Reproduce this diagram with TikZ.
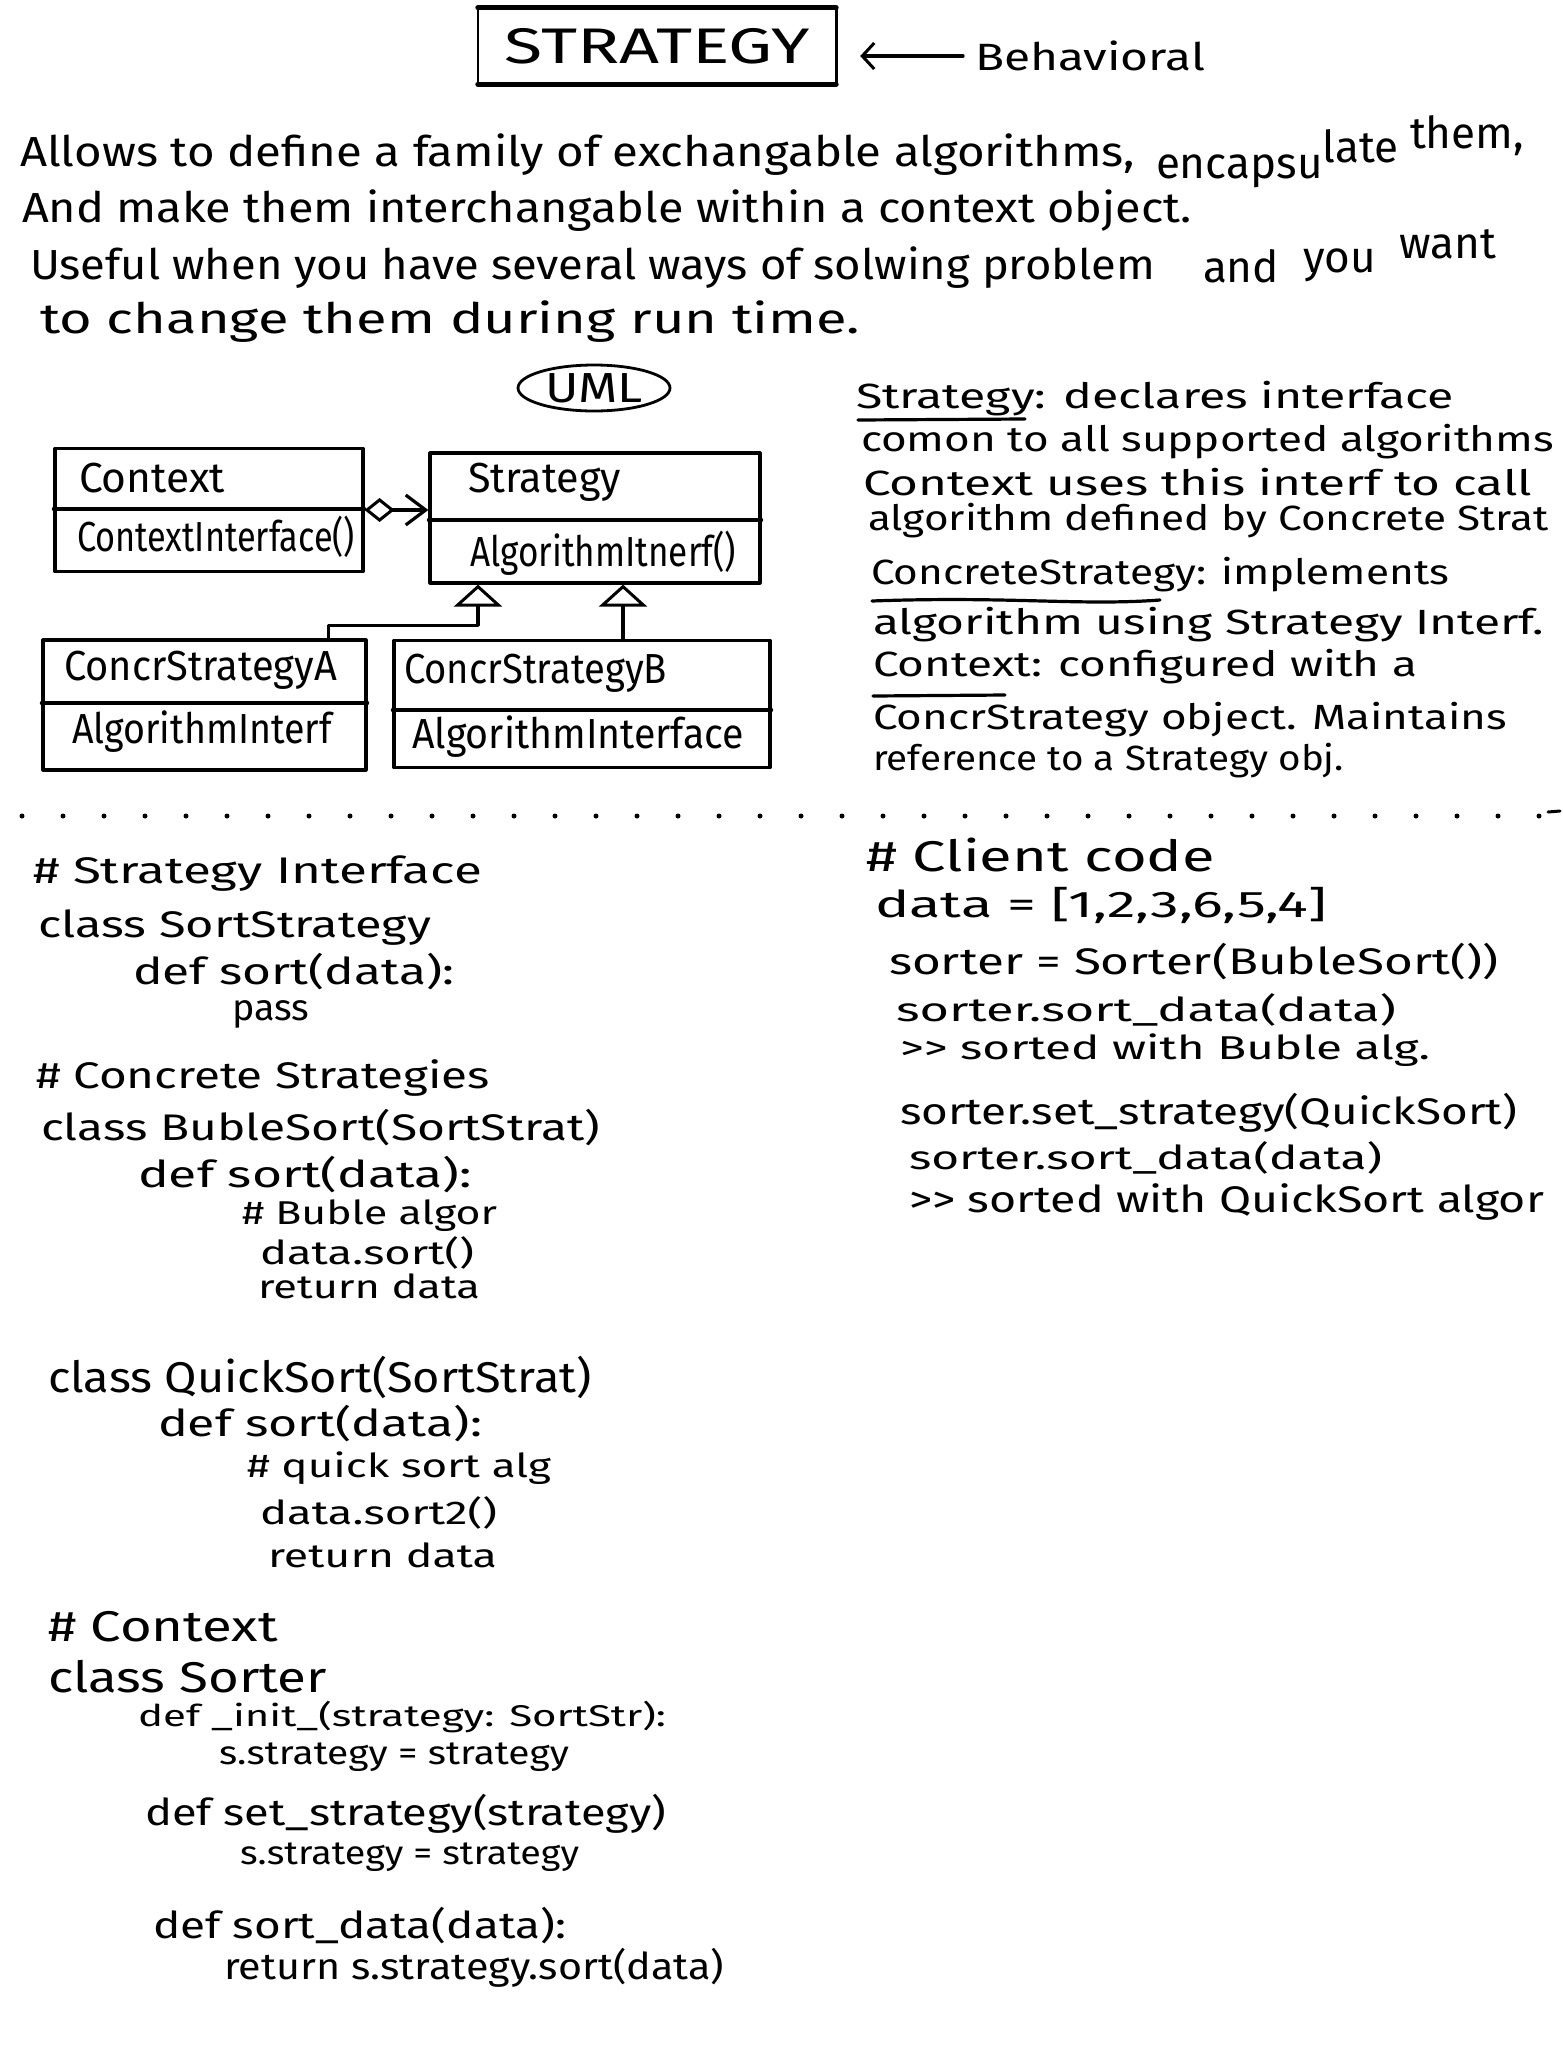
\documentclass[tikz,border=0pt]{standalone}
\usepackage{fontspec}
\setmainfont{Fira Sans}
\usetikzlibrary{arrows.meta,shapes.geometric}
% stretch a line of text horizontally to a given width (in pt), keeping its height
\newcommand\fitw[2]{\resizebox{#1pt}{\height}{#2}}
\begin{document}
\begin{tikzpicture}[x=1pt,y=-1pt,
  ink/.style={line width=3.2pt, line cap=round, line join=round},
  txt/.style={anchor=west, inner sep=0pt, outer sep=0pt},
  para/.style={txt, font=\fontsize{42}{48}\selectfont},
  note/.style={txt, font=\fontsize{35}{40}\selectfont},
  code/.style={txt, font=\fontsize{37}{42}\selectfont},
  tightcode/.style={txt, font=\fontsize{33}{38}\selectfont},
  bigcode/.style={txt, font=\fontsize{43}{48}\selectfont},
  umltxt/.style={txt, font=\fontsize{42}{48}\selectfont},
  classbox/.style={draw, ink, rectangle, inner sep=0pt},
  inherit/.style={ink, -{Triangle[open, length=22pt, width=48pt, line width=3pt]}},
  aggr/.style={ink, {Diamond[open, length=30pt, width=24pt, line width=3pt]}-{Straight Barb[length=20pt, width=30pt, line width=3.2pt]}},
]
\useasboundingbox (0,0) rectangle (1563,2048);
\fill[white] (0,0) rectangle (1563,2048);

% ---------- title ----------
\node[font=\fontsize{50}{56}\selectfont, minimum width=358pt, minimum height=76pt, inner sep=0pt] (title) at (657,46) {\fitw{305}{STRATEGY}};
\draw[line width=2.6pt] (title.north west) rectangle (title.south east);
\draw[line width=5pt, line cap=round] (title.north west) -- (title.north east);
\draw[line width=5pt, line cap=round] (title.south west) -- (title.south east);
\node[txt, font=\fontsize{38}{44}\selectfont] (behav) at (975,56) {\fitw{230}{Behavioral}};
\draw[ink, -{Straight Barb[length=12pt, width=26pt, line width=3pt]}, shorten >=24pt, shorten <=12pt] (behav.west) -- (title.east |- behav.west);

% ---------- description ----------
\node[para] (p1) at (20,155) {\fitw{1115}{Allows to define a family of exchangable algorithms,}};
\node[txt, font=\fontsize{44}{50}\selectfont] (p1b) at (1156,152) {encapsu\raisebox{16pt}{late}\raisebox{30pt}{ them,}};
\node[para] (p2) at (22,211) {\fitw{1170}{And make them interchangable within a context object.}};
\node[para] (p3) at (30,268) {\fitw{1125}{Useful when you have several ways of solwing problem}};
\node[txt, font=\fontsize{44}{50}\selectfont] (p3b) at (1203,256) {and\hspace{24pt}\raisebox{10pt}{you}\hspace{24pt}\raisebox{24pt}{want}};
\node[para] (p4) at (40,322) {\fitw{820}{to change them during run time.}};

% ---------- UML ----------
\node[ellipse, draw, line width=2.8pt, minimum width=152pt, minimum height=46pt, inner sep=0pt,
      font=\fontsize{42}{48}\selectfont] (uml) at (594,388) {\fitw{98}{UML}};

\node[classbox, minimum width=308pt, minimum height=123pt] (context) at (209,510) {};
\draw[ink] ([yshift=1pt]context.west) -- ([yshift=1pt]context.east);
\node[umltxt] (ctxname) at (79,478) {\fitw{146}{Context}};
\node[umltxt] (ctxop) at (77,537) {\fitw{278}{ContextInterface()}};

\node[classbox, minimum width=330pt, minimum height=130pt] (strategy) at (595,518) {};
\draw[ink] ([yshift=-2pt]strategy.west) -- ([yshift=-2pt]strategy.east);
\node[umltxt] (stname) at (468,482) {\fitw{153}{Strategy}};
\node[umltxt] (stop) at (470,553) {\fitw{266}{AlgorithmItnerf()}};

\node[classbox, minimum width=323pt, minimum height=130pt] (concrA) at (204.5,705) {};
\draw[ink] ([yshift=2pt]concrA.west) -- ([yshift=2pt]concrA.east);
\node[umltxt] (aname) at (64,670) {\fitw{273}{ConcrStrategyA}};
\node[umltxt] (aop) at (72,732) {\fitw{260}{AlgorithmInterf}};

\node[classbox, minimum width=376pt, minimum height=127pt] (concrB) at (582,704) {};
\draw[ink] ([yshift=-6pt]concrB.west) -- ([yshift=-6pt]concrB.east);
\node[umltxt] (bname) at (404,673) {\fitw{263}{ConcrStrategyB}};
\node[umltxt] (bop) at (412,737) {\fitw{332}{AlgorithmInterface}};

\draw[aggr] (context.east) -- (strategy.west |- context.east);
\coordinate (tipA) at ([xshift=-117pt]strategy.south);
\coordinate (tipB) at ([xshift=28pt]strategy.south);
\draw[inherit] ([xshift=124pt]concrA.north) -- ++(0,-13) -| (tipA);
\draw[inherit] (concrB.north -| tipB) -- (tipB);

% ---------- notes ----------
\node[note] (n1) at (856,399) {\fitw{598}{Strategy: declares interface}};
\node[note] (n2) at (861,442) {\fitw{693}{comon to all supported algorithms}};
\node[note] (n3) at (863,482) {\fitw{669}{Context uses this interf to call}};
\node[note] (n4) at (868,521) {\fitw{681}{algorithm defined by Concrete Strat}};
\node[note] (n5) at (871,575) {\fitw{578}{ConcreteStrategy: implements}};
\node[note] (n6) at (873,625) {\fitw{671}{algorithm using Strategy Interf.}};
\node[note] (n7) at (873,667) {\fitw{544}{Context: configured with a}};
\node[note] (n8) at (873,720) {\fitw{634}{ConcrStrategy object. Maintains}};
\node[note] (n9) at (873,761) {\fitw{471}{reference to a Strategy obj.}};
\draw[ink] (858,420) -- (1025,419);
\draw[ink] (872,601) .. controls (1010,596) and (1080,606) .. (1160,600);
\draw[ink] (873,696) -- (1005,695);

% ---------- separator ----------
\draw[line width=5pt, line cap=round, dash pattern=on 0pt off 41pt] (22,816) -- (1540,816);
\draw[line width=3pt, line cap=round] (1548,812) -- (1560,811);

% ---------- strategy code ----------
\node[code] (c1) at (33,874) {\fitw{449}{\# Strategy Interface}};
\node[code] (c2) at (38,928) {\fitw{393}{class SortStrategy}};
\node[code] (c3) at (133,972) {\fitw{321}{def sort(data):}};
\node[code] (c4) at (232,1014) {\fitw{77}{pass}};
\node[code] (c5) at (36,1078) {\fitw{454}{\# Concrete Strategies}};
\node[code] (c6) at (41,1128) {\fitw{559}{class BubleSort(SortStrat)}};
\node[code] (c7) at (138,1175) {\fitw{334}{def sort(data):}};
\node[tightcode] (c8) at (242,1216) {\fitw{255}{\# Buble algor}};
\node[tightcode] (c9) at (260,1253) {\fitw{214}{data.sort()}};
\node[tightcode] (c10) at (258,1286) {\fitw{222}{return data}};
\node[bigcode] (c11) at (48,1377) {\fitw{544}{class QuickSort(SortStrat)}};
\node[code] (c12) at (158,1424) {\fitw{324}{def sort(data):}};
\node[tightcode] (c13) at (247,1468) {\fitw{304}{\# quick sort alg}};
\node[tightcode] (c14) at (260,1513) {\fitw{237}{data.sort2()}};
\node[tightcode] (c15) at (268,1555) {\fitw{229}{return data}};
\node[bigcode] (c16) at (48,1627) {\fitw{230}{\# Context}};
\node[bigcode] (c17) at (48,1677) {\fitw{279}{class Sorter}};
\node[txt, font=\fontsize{30}{36}\selectfont] (c18) at (138,1717) {\fitw{528}{def \_init\_(strategy: SortStr):}};
\node[tightcode] (c19) at (219,1757) {\fitw{350}{s.strategy = strategy}};
\node[code] (c20) at (145,1814) {\fitw{521}{def set\_strategy(strategy)}};
\node[tightcode] (c21) at (240,1857) {\fitw{339}{s.strategy = strategy}};
\node[code] (c22) at (153,1926) {\fitw{413}{def sort\_data(data):}};
\node[code] (c23) at (224,1968) {\fitw{500}{return s.strategy.sort(data)}};

% ---------- client code ----------
\node[bigcode] (k1) at (866,855) {\fitw{349}{\# Client code}};
\node[code] (k2) at (875,905) {\fitw{452}{data = [1,2,3,6,5,4]}};
\node[code] (k3) at (889,962) {\fitw{609}{sorter = Sorter(BubleSort())}};
\node[tightcode] (k4) at (896,1010) {\fitw{500}{sorter.sort\_data(data)}};
\node[tightcode] (k5) at (900,1050) {\fitw{530}{{>}{>} sorted with Buble alg.}};
\node[code] (k6) at (900,1113) {\fitw{617}{sorter.set\_strategy(QuickSort)}};
\node[tightcode] (k7) at (909,1158) {\fitw{473}{sorter.sort\_data(data)}};
\node[code] (k8) at (909,1202) {\fitw{635}{{>}{>} sorted with QuickSort algor}};
\end{tikzpicture}
\end{document}
